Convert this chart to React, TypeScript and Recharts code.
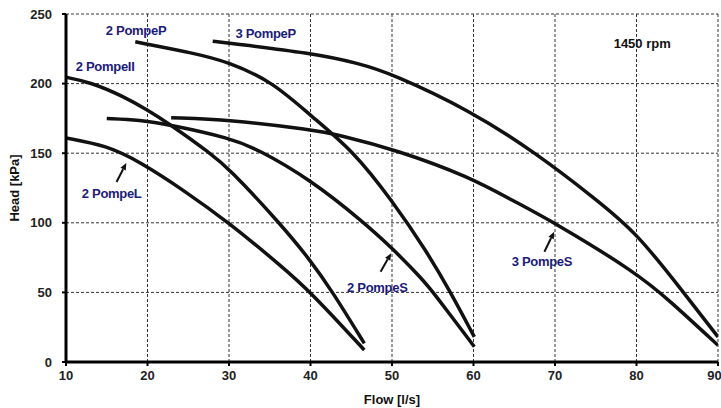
import React from 'react'
import { LineChart, Line, XAxis, YAxis, CartesianGrid, ReferenceDot, ReferenceLine } from 'recharts'

// pump curves, flow q [l/s] vs head h [kPa]
const pompeL2 = [
  { q: 10, h: 161 }, { q: 15, h: 155.5 }, { q: 19, h: 144 }, { q: 24.3, h: 124 },
  { q: 30, h: 100 }, { q: 36.2, h: 70 }, { q: 40, h: 50.5 }, { q: 46.6, h: 8.6 },
]
const pompeII2 = [
  { q: 10, h: 204.5 }, { q: 13, h: 201 }, { q: 17, h: 191 }, { q: 20, h: 181 },
  { q: 22.7, h: 171 }, { q: 27.7, h: 150 }, { q: 30, h: 139 }, { q: 36.2, h: 100 },
  { q: 40, h: 73 }, { q: 42.7, h: 50.5 }, { q: 46.6, h: 13.4 },
]
const pompeS2 = [
  { q: 15, h: 175 }, { q: 19, h: 174 }, { q: 23.1, h: 170 }, { q: 30, h: 161 },
  { q: 33.5, h: 153 }, { q: 40, h: 131 }, { q: 46.4, h: 101 }, { q: 50, h: 82 },
  { q: 53.8, h: 59 }, { q: 55, h: 50.5 }, { q: 60.1, h: 11 },
]
const pompeP2 = [
  { q: 18.5, h: 230 }, { q: 25.6, h: 222 }, { q: 30, h: 215.5 }, { q: 35.4, h: 201 },
  { q: 40, h: 177 }, { q: 45.2, h: 152 }, { q: 50, h: 116 }, { q: 54.2, h: 80 },
  { q: 57.1, h: 51 }, { q: 60.1, h: 18 },
]
const pompeP3 = [
  { q: 28, h: 230.5 }, { q: 30, h: 229 }, { q: 40, h: 222 }, { q: 46, h: 214.5 },
  { q: 50, h: 207 }, { q: 59.5, h: 181 }, { q: 67.7, h: 150 }, { q: 75, h: 117 },
  { q: 80, h: 93 }, { q: 85.7, h: 50.5 }, { q: 90, h: 18 },
]
const pompeS3 = [
  { q: 22.9, h: 175.5 }, { q: 30, h: 174 }, { q: 40, h: 167 }, { q: 43.6, h: 163 },
  { q: 50.7, h: 152 }, { q: 59.5, h: 133 }, { q: 64.8, h: 116 }, { q: 70, h: 100 },
  { q: 80, h: 64 }, { q: 84, h: 44.5 }, { q: 90, h: 12 },
]

const series = [pompeL2, pompeII2, pompeS2, pompeP2, pompeP3, pompeS3]

const flowTicks = [10, 20, 30, 40, 50, 60, 70, 80, 90]
const headTicks = [0, 50, 100, 150, 200, 250]

const curveLabels = [
  { text: '2 PompeP', q: 18.6, h: 238.5 },
  { text: '3 PompeP', q: 34.5, h: 236 },
  { text: '2 PompeII', q: 14.8, h: 212 },
  { text: '2 PompeL', q: 15.6, h: 121.4 },
  { text: '2 PompeS', q: 48.2, h: 53.7 },
  { text: '3 PompeS', q: 68.4, h: 72 },
]

const arrows = [
  { q1: 16.2, h1: 129.3, q2: 17.4, h2: 143 },
  { q1: 48.6, h1: 64.9, q2: 49.9, h2: 78.1 },
  { q1: 68.7, h1: 79.2, q2: 69.9, h2: 93.6 },
]

const FONT = '"Liberation Sans", Arial, sans-serif'
const NAVY = '#1b1b7a'

const Arrow = (props: any) => {
  const { x1, y1, x2, y2 } = props
  if (x1 == null) return null
  const a = Math.atan2(y2 - y1, x2 - x1)
  const len = 7
  const w = 3
  const bx = x2 - len * Math.cos(a)
  const by = y2 - len * Math.sin(a)
  const px = -Math.sin(a) * w
  const py = Math.cos(a) * w
  return (
    <g>
      <line x1={x1} y1={y1} x2={bx} y2={by} stroke="#111" strokeWidth={2} />
      <polygon points={`${x2},${y2} ${bx + px},${by + py} ${bx - px},${by - py}`} fill="#111" />
    </g>
  )
}

const tickStyle = { fontFamily: FONT, fontSize: 13, fontWeight: 700, fill: '#222' }

export default function App() {
  return (
    <div style={{ width: 721, height: 408, background: '#fff' }}>
      <style>{`body{margin:0}`}</style>
      <LineChart width={721} height={408} margin={{ top: 14, right: 3, left: 0, bottom: 0 }}>
        <CartesianGrid stroke="#333" strokeDasharray="3 2" strokeWidth={1} />
        <XAxis
          dataKey="q"
          type="number"
          domain={[10, 90]}
          ticks={flowTicks}
          allowDataOverflow
          height={46}
          tickSize={4}
          tickMargin={5}
          tick={tickStyle}
          stroke="#000"
          axisLine={{ stroke: '#000', strokeWidth: 3 }}
          tickLine={{ stroke: '#000', strokeWidth: 2 }}
          label={{
            content: ({ viewBox }: any) => (
              <text x={viewBox.x + viewBox.width / 2} y={viewBox.y + 42} textAnchor="middle"
                style={{ fontFamily: FONT, fontSize: 13, fontWeight: 700, fill: '#111' }}>
                Flow [l/s]
              </text>
            ),
          }}
        />
        <YAxis
          type="number"
          domain={[0, 250]}
          ticks={headTicks}
          width={66}
          tickSize={4}
          tickMargin={10}
          tick={tickStyle}
          axisLine={{ stroke: '#000', strokeWidth: 3 }}
          tickLine={{ stroke: '#000', strokeWidth: 2 }}
          label={{
            content: ({ viewBox }: any) => {
              const cx = 14
              const cy = viewBox.y + viewBox.height / 2
              return (
                <text x={cx} y={cy} transform={`rotate(-90 ${cx} ${cy})`} textAnchor="middle"
                  dominantBaseline="central"
                  style={{ fontFamily: FONT, fontSize: 13, fontWeight: 700, fill: '#111' }}>
                  Head [kPa]
                </text>
              )
            },
          }}
        />
        {series.map((d, i) => (
          <Line key={i} data={d} dataKey="h" type="basis" stroke="#111" strokeWidth={3.5}
            dot={false} activeDot={false} isAnimationActive={false} />
        ))}
        {arrows.map((a, i) => (
          <ReferenceLine key={`ar${i}`} segment={[{ x: a.q1, y: a.h1 }, { x: a.q2, y: a.h2 }]}
            shape={Arrow} ifOverflow="visible" />
        ))}
        {curveLabels.map((l) => (
          <ReferenceDot key={l.text} x={l.q} y={l.h} r={0} ifOverflow="visible"
            shape={(p: any) => (
              <text x={p.cx} y={p.cy} textAnchor="middle" dominantBaseline="central"
                style={{ fontFamily: FONT, fontSize: 13, fontWeight: 700, fill: NAVY, letterSpacing: -0.3 }}>
                {l.text}
              </text>
            )} />
        ))}
        <ReferenceDot x={80.7} y={229} r={0} ifOverflow="visible"
          shape={(p: any) => (
            <text x={p.cx} y={p.cy} textAnchor="middle" dominantBaseline="central"
              style={{ fontFamily: FONT, fontSize: 13, fontWeight: 700, fill: '#111' }}>
              1450 rpm
            </text>
          )} />
      </LineChart>
    </div>
  )
}
